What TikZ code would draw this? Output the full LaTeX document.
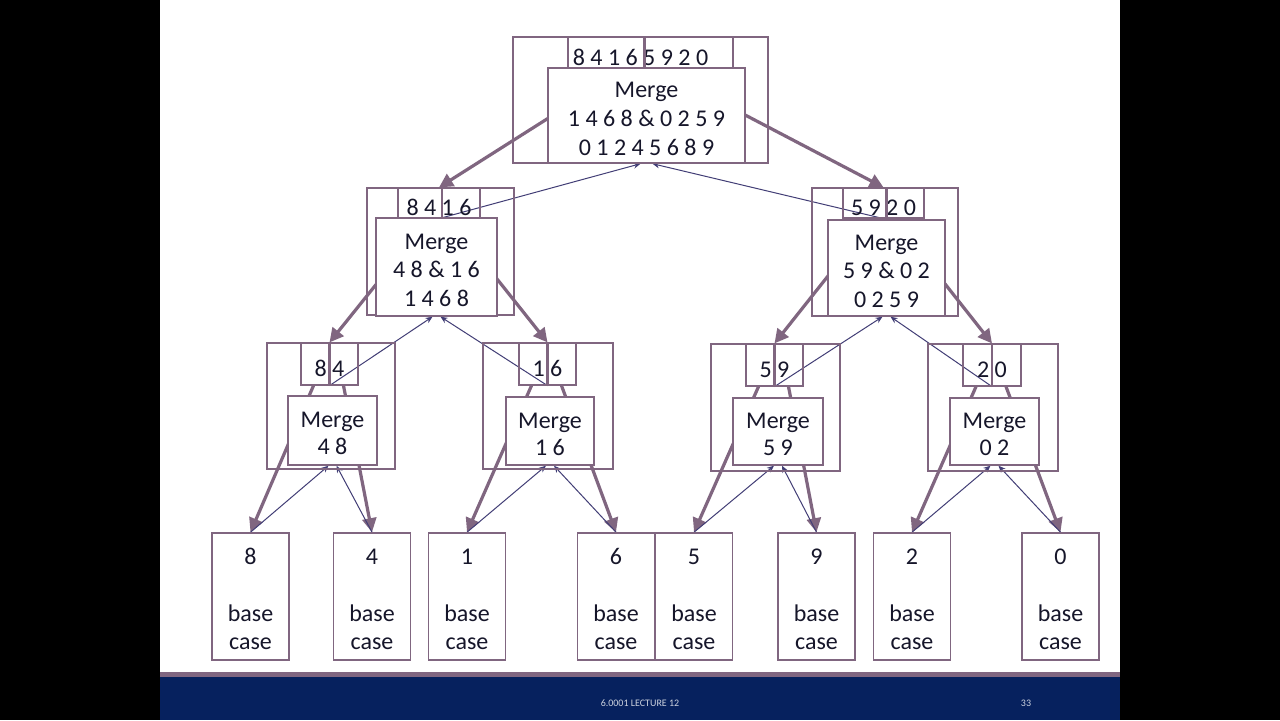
\documentclass[tikz,border=0pt]{standalone}
\usepackage{fontspec}
\setmainfont{Carlito}
\usetikzlibrary{arrows.meta,positioning}
\definecolor{boxline}{RGB}{128,102,128}
\definecolor{backline}{RGB}{66,62,118}
\definecolor{footbar}{RGB}{6,33,94}
\definecolor{inktext}{RGB}{22,22,42}
\pgfdeclarelayer{slide}
\pgfdeclarelayer{wires}
\pgfsetlayers{slide,wires,main}
\newcommand{\mergegap}{\rule{0pt}{11pt}}

\begin{document}
\begin{tikzpicture}[x=0.5pt, y=-0.5pt,
    callbox/.style={draw=boxline, line width=0.7pt, inner sep=0pt},
    listbox/.style={draw=boxline, line width=0.6pt, inner sep=0pt, text=inktext,
        text height=12.5pt, text depth=0pt, font=\fontsize{12}{14}\selectfont},
    mergebox/.style={draw=boxline, fill=white, line width=0.7pt, inner sep=0pt,
        align=center, text=inktext, font=\fontsize{12}{14.3}\selectfont},
    smallmerge/.style={mergebox, font=\fontsize{12}{13.5}\selectfont},
    leafbox/.style={draw=boxline, line width=0.8pt, inner sep=0pt, align=center,
        minimum width=38.5pt, minimum height=63.5pt, text=inktext,
        font=\fontsize{12}{14}\selectfont},
    split/.style={boxline, line width=1.2pt},
    down/.style={boxline, line width=1.6pt, -{Triangle[length=7pt,width=7pt]}},
    up/.style={backline, line width=0.5pt, -{Stealth[length=3.5pt,width=3pt]}}]
                                % slide
                                \begin{pgfonlayer}{slide}
                                \fill[black] (0,0) rectangle (1280,720);
                                \fill[white] (160,0) rectangle (1120,672);
                                \fill[boxline] (160,672) rectangle (1120,677);
                                \fill[footbar] (160,677) rectangle (1120,720);
                                \end{pgfonlayer}
                                \node[text=white!80!footbar, font=\fontsize{5}{6}\selectfont] (foottitle) at (640,703) {6.0001 LECTURE 12};
                                \node[text=white!80!footbar, font=\fontsize{5}{6}\selectfont] (pagenum) at (1026,703) {33};
                                % top call
                                \node[callbox, minimum width=127.5pt, minimum height=63pt] (callT) at (640.5,100) {};
                                \node[listbox, minimum width=82.5pt, minimum height=15.5pt] (listT) at (650.5,52.5) {};
                                \node[listbox, draw=none] (listTtext) at ([xshift=-5pt]listT.center) {8 4 1 6 5 9 2 0};
                                \node[mergebox, minimum width=98.5pt, minimum height=47.5pt] (mergeT) at (646.5,115.5) {\mergegap Merge\\1 4 6 8 \& 0 2 5 9\\0 1 2 4 5 6 8 9};
                                \draw[split] ([xshift=-3pt]listT.north) -- ([xshift=-3pt]listT.south);
                                % second level
                                \node[callbox, minimum width=73.5pt, minimum height=63.5pt] (callL) at (440.5,251.5) {};
                                \node[listbox, minimum width=41pt, minimum height=15pt] (listL) at (439,203) {8 4 1 6};
                                \node[mergebox, minimum width=60.5pt, minimum height=49pt] (mergeL) at (436.5,267) {\mergegap Merge\\4 8 \& 1 6\\1 4 6 8};
                                \draw[split] ([xshift=1.5pt]listL.north) -- ([xshift=1.5pt]listL.south);
                                \node[callbox, minimum width=73pt, minimum height=64pt] (callR) at (885,252) {};
                                \node[listbox, minimum width=40.5pt, minimum height=15pt] (listR) at (883.5,203) {5 9 2 0};
                                \node[mergebox, minimum width=58.5pt, minimum height=48pt] (mergeR) at (886.5,268) {\mergegap Merge\\5 9 \& 0 2\\0 2 5 9};
                                \draw[split] ([xshift=1.5pt]listR.north) -- ([xshift=1.5pt]listR.south);
                                % third level
                                \node[callbox, minimum width=64pt, minimum height=63pt] (callLL) at (331,406) {};
                                \node[listbox, minimum width=28.5pt, minimum height=21pt] (listLL) at (329.5,364) {8 4};
                                \node[smallmerge, minimum width=44.5pt, minimum height=34.5pt] (mergeLL) at (332.5,430.5) {\mergegap Merge\\4 8};
                                \draw[split] (listLL.north) -- (listLL.south);
                                \node[callbox, minimum width=65pt, minimum height=63pt] (callLR) at (548,406) {};
                                \node[listbox, minimum width=28.5pt, minimum height=21pt] (listLR) at (547.5,364) {1 6};
                                \node[smallmerge, minimum width=44pt, minimum height=34pt] (mergeLR) at (550,431) {\mergegap Merge\\1 6};
                                \draw[split] (listLR.north) -- (listLR.south);
                                \node[callbox, minimum width=64.5pt, minimum height=63.5pt] (callRL) at (775.5,407.5) {};
                                \node[listbox, minimum width=28.5pt, minimum height=21pt] (listRL) at (774.5,365) {5 9};
                                \node[smallmerge, minimum width=45pt, minimum height=33.5pt] (mergeRL) at (778,431.5) {\mergegap Merge\\5 9};
                                \draw[split] (listRL.north) -- (listRL.south);
                                \node[callbox, minimum width=65pt, minimum height=63.5pt] (callRR) at (993,407.5) {};
                                \node[listbox, minimum width=29pt, minimum height=21pt] (listRR) at (992,365) {2 0};
                                \node[smallmerge, minimum width=44.5pt, minimum height=33.5pt] (mergeRR) at (994.5,431.5) {\mergegap Merge\\0 2};
                                \draw[split] (listRR.north) -- (listRR.south);
                                % base cases
                                \foreach \x/\v in {250.5/8, 372/4, 467/1, 616/6, 694/5, 816.5/9, 912/2, 1060.5/0}
                                    \node[leafbox] (leaf\v) at (\x,596.5) {\rule{0pt}{10.6pt}\v\\[14.5pt]base\\case};
                                % split and merge arrows
                                \begin{pgfonlayer}{wires}
                                \draw[down] ([xshift=-12pt]listT.south) -- (listL.north);
                                \draw[down] ([xshift=3pt]listT.south) -- (listR.north);
                                \draw[down] ([xshift=-5pt]listL.south) -- (listLL.north);
                                \draw[down] ([xshift=5pt]listL.south) -- (listLR.north);
                                \draw[down] ([xshift=-5pt]listR.south) -- (listRL.north);
                                \draw[down] ([xshift=5pt]listR.south) -- (listRR.north);
                                \draw[down] ([xshift=-8pt]listLL.south) -- (leaf8.north);
                                \draw[down] ([xshift=7pt]listLL.south) -- (leaf4.north);
                                \draw[down] ([xshift=-8pt]listLR.south) -- (leaf1.north);
                                \draw[down] ([xshift=7pt]listLR.south) -- (leaf6.north);
                                \draw[down] ([xshift=-8pt]listRL.south) -- (leaf5.north);
                                \draw[down] ([xshift=7pt]listRL.south) -- (leaf9.north);
                                \draw[down] ([xshift=-8pt]listRR.south) -- (leaf2.north);
                                \draw[down] ([xshift=7pt]listRR.south) -- (leaf0.north);
                                \draw[up] (listL.south) -- ([xshift=-3pt]mergeT.south);
                                \draw[up] (listR.south) -- ([xshift=3pt]mergeT.south);
                                \draw[up] (listLL.south) -- ([xshift=-2pt]mergeL.south);
                                \draw[up] (listLR.south) -- ([xshift=2pt]mergeL.south);
                                \draw[up] (listRL.south) -- ([xshift=-2pt]mergeR.south);
                                \draw[up] (listRR.south) -- ([xshift=2pt]mergeR.south);
                                \draw[up] (leaf8.north) -- ([xshift=-2pt]mergeLL.south);
                                \draw[up] (leaf4.north) -- ([xshift=2pt]mergeLL.south);
                                \draw[up] (leaf1.north) -- ([xshift=-2pt]mergeLR.south);
                                \draw[up] (leaf6.north) -- ([xshift=2pt]mergeLR.south);
                                \draw[up] (leaf5.north) -- ([xshift=-2pt]mergeRL.south);
                                \draw[up] (leaf9.north) -- ([xshift=2pt]mergeRL.south);
                                \draw[up] (leaf2.north) -- ([xshift=-2pt]mergeRR.south);
                                \draw[up] (leaf0.north) -- ([xshift=2pt]mergeRR.south);
                                \end{pgfonlayer}
                            \end{tikzpicture}
\end{document}
